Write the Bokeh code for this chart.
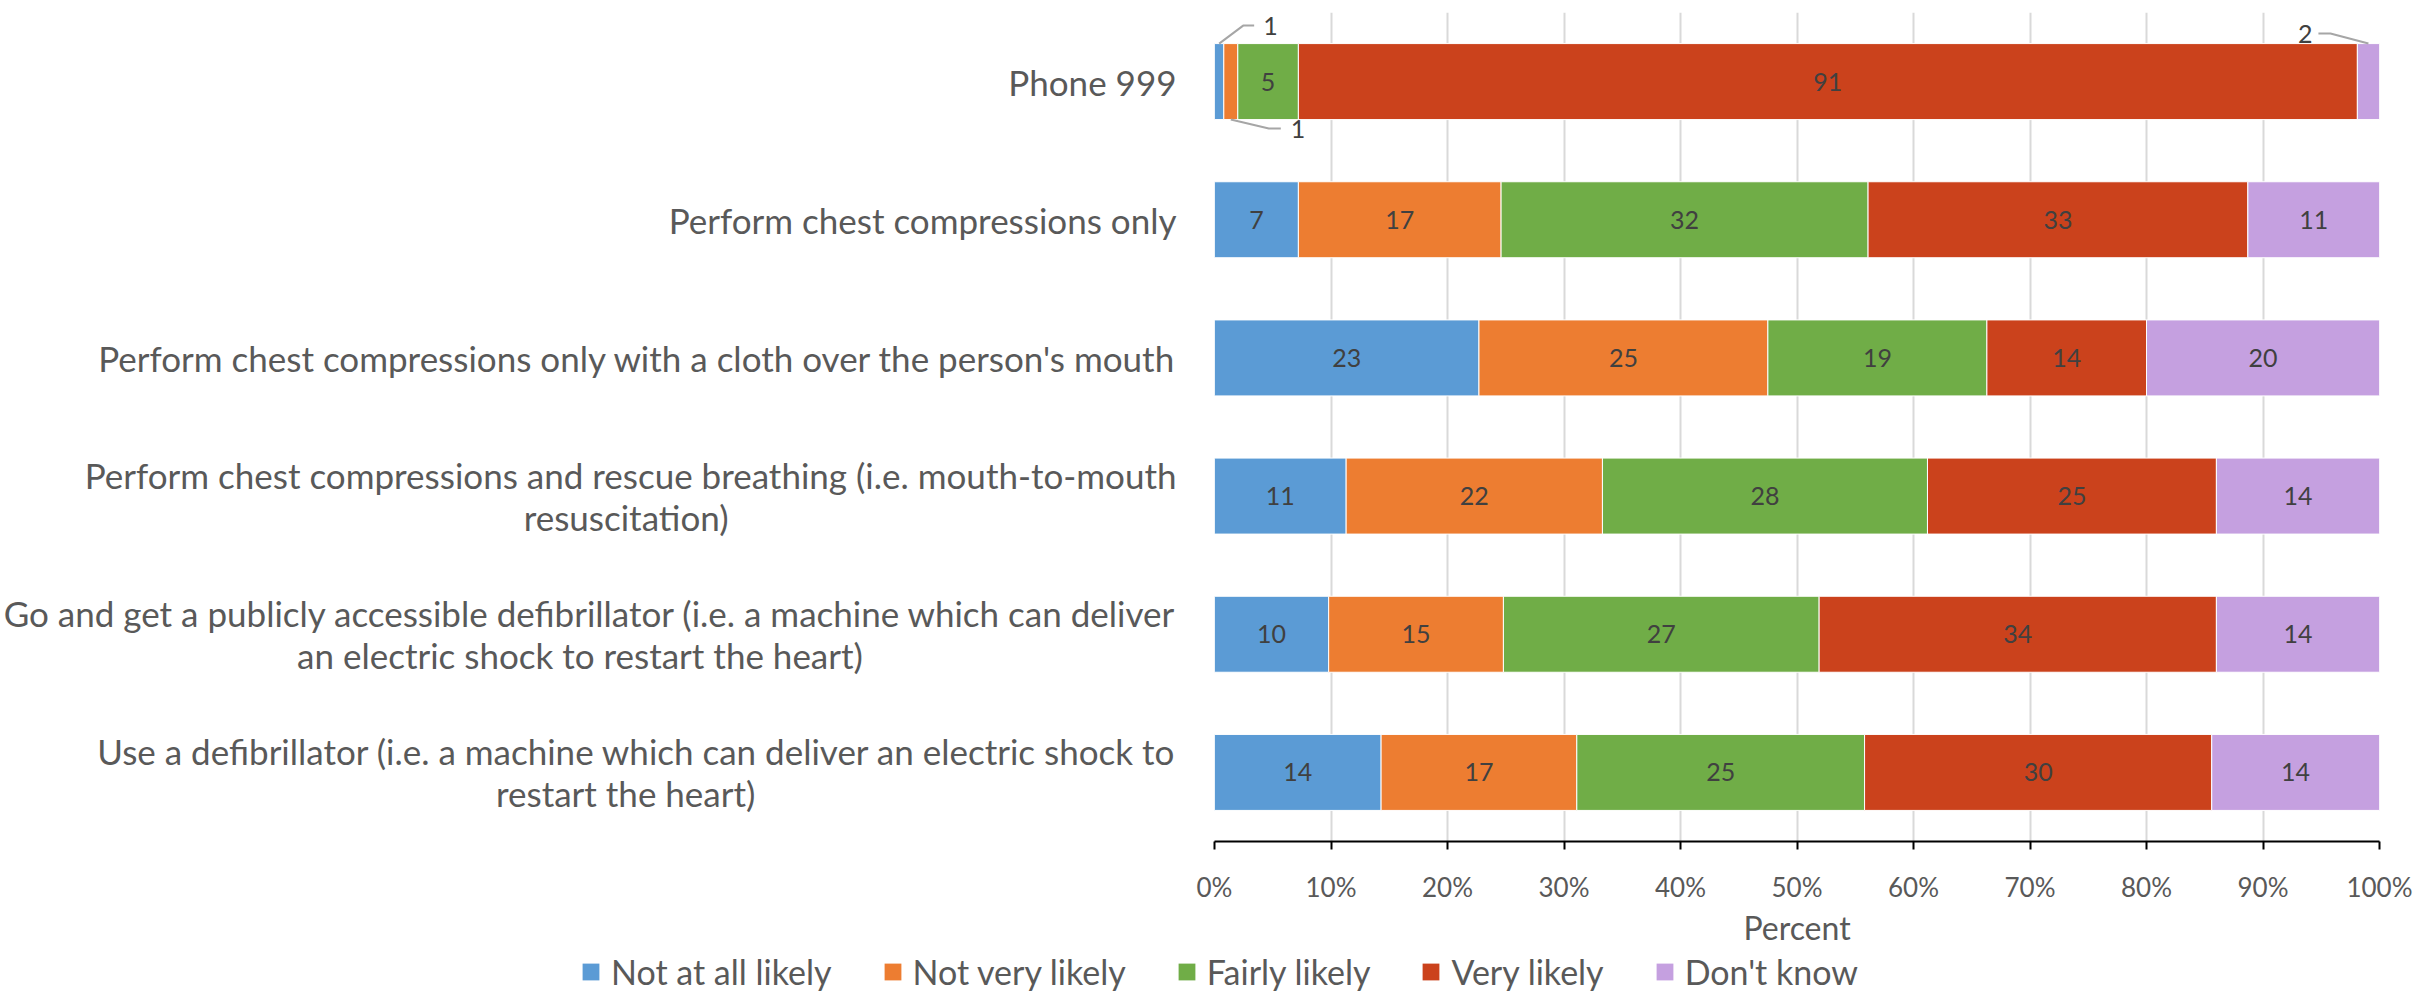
from bokeh.plotting import figure
from bokeh.layouts import column
from bokeh.models import Range1d, FixedTicker, Legend, LegendItem, ColumnDataSource
from bokeh.core.properties import value
from bokeh.embed import file_html
from bokeh.resources import INLINE

categories = [
    "Phone 999",
    "Perform chest compressions only",
    "Perform chest compressions only with a cloth over the person's mouth",
    "Perform chest compressions and rescue breathing (i.e. mouth-to-mouth\nresuscitation)",
    "Go and get a publicly accessible defibrillator (i.e. a machine which can deliver\nan electric shock to restart the heart)",
    "Use a defibrillator (i.e. a machine which can deliver an electric shock to\nrestart the heart)",
]
series = ["Not at all likely", "Not very likely", "Fairly likely", "Very likely", "Don't know"]
not_at_all_likely = [0.8, 7.2, 22.7, 11.3, 9.8, 14.3]
not_very_likely = [1.2, 17.4, 24.8, 22.0, 15.0, 16.8]
fairly_likely = [5.2, 31.5, 18.8, 27.9, 27.1, 24.7]
very_likely = [90.9, 32.6, 13.7, 24.8, 34.1, 29.8]
dont_know = [1.9, 11.3, 20.0, 14.0, 14.0, 14.4]
x_ticks = [0, 10, 20, 30, 40, 50, 60, 70, 80, 90, 100]
x_tick_labels = ["0%", "10%", "20%", "30%", "40%", "50%", "60%", "70%", "80%", "90%", "100%"]

colors = ["#5B9BD5", "#ED7D31", "#70AD47", "#CB421C", "#C5A0E0"]
FONT = "Lato"
TXT = "#595959"
LBL = "#404040"
NBSP = "\u00a0"
# non-breaking-space padding on the last line, so wrapped labels look centred
label_pad = [0, 0, 0, 50, 35, 47]

values = [not_at_all_likely, not_very_likely, fairly_likely, very_likely, dont_know]
n = len(categories)
totals = [sum(v[i] for v in values) for i in range(n)]
pct = [[v[i] / totals[i] * 100 for i in range(n)] for v in values]

W, HM, HL = 2423, 950, 42
FRAME_LEFT = 1214
p = figure(width=W, height=HM, output_backend="svg", toolbar_location=None,
           x_range=Range1d(0, 100), y_range=Range1d(n - 0.5, -0.5),
           min_border_left=FRAME_LEFT, min_border_right=44, min_border_top=12, min_border_bottom=109)
p.outline_line_color = None
p.background_fill_color = "white"

p.ygrid.grid_line_color = None
p.xgrid.ticker = FixedTicker(ticks=x_ticks)
p.xgrid.grid_line_color = "#D9D9D9"
p.xgrid.grid_line_width = 2

bar_h = 0.55
pxx = 100 / 1165.0  # % per pixel
pyy = 1 / 138.17    # category per pixel
renderers = []
left = [0.0] * n
for s, name in enumerate(series):
    right = [left[i] + pct[s][i] for i in range(n)]
    src = ColumnDataSource(dict(y=list(range(n)), left=left, right=right))
    r = p.hbar(y="y", left="left", right="right", height=bar_h, source=src,
               fill_color=colors[s], line_color="white", line_width=1)
    renderers.append(r)
    inside = dict(x=[], y=[], t=[])
    for i in range(n):
        c = (left[i] + right[i]) / 2
        lab = str(int(round(values[s][i])))
        if pct[s][i] >= 3:
            inside["x"].append(c); inside["y"].append(i); inside["t"].append(lab)
        else:
            if s == len(series) - 1:
                y0 = i - bar_h / 2
                xs = [c, c - 38 * pxx, c - 50 * pxx]
                ys = [y0, y0 - 10 * pyy, y0 - 10 * pyy]
                tx, ta = c - 56 * pxx, "right"
            elif s % 2 == 0:
                y0 = i - bar_h / 2
                xs = [c, c + 24 * pxx, c + 35 * pxx]
                ys = [y0, y0 - 18 * pyy, y0 - 18 * pyy]
                tx, ta = c + 44 * pxx, "left"
            else:
                y0 = i + bar_h / 2
                xs = [c, c + 38 * pxx, c + 50 * pxx]
                ys = [y0, y0 + 9 * pyy, y0 + 9 * pyy]
                tx, ta = c + 60 * pxx, "left"
            p.line(xs, ys, line_color="#A6A6A6", line_width=2)
            p.text(x=[tx], y=[ys[-1]], text=[lab], text_align=ta, text_baseline="middle",
                   text_font=value(FONT), text_font_size="25px", text_color=LBL)
    p.text(x="x", y="y", text="t", source=ColumnDataSource(inside), text_align="center",
           text_baseline="middle", text_font=value(FONT), text_font_size="25px", text_color=LBL)
    left = right

xa = p.xaxis[0]
xa.ticker = FixedTicker(ticks=x_ticks)
xa.major_label_overrides = {t: l for t, l in zip(x_ticks, x_tick_labels)}
xa.axis_line_color = "black"
xa.axis_line_width = 2
xa.major_tick_line_color = "black"
xa.major_tick_line_width = 2
xa.major_tick_out = 8
xa.major_tick_in = 0
xa.minor_tick_line_color = None
xa.major_label_text_font = FONT
xa.major_label_text_font_size = "26px"
xa.major_label_text_color = TXT
xa.major_label_standoff = 21
xa.axis_label = "Percent"
xa.axis_label_text_font = FONT
xa.axis_label_text_font_size = "32px"
xa.axis_label_text_font_style = "normal"
xa.axis_label_text_color = TXT
xa.axis_label_standoff = 2

ya = p.yaxis[0]
ya.ticker = FixedTicker(ticks=list(range(n)))
ya.major_label_overrides = {i: c + NBSP * label_pad[i] for i, c in enumerate(categories)}
ya.axis_line_color = None
ya.major_tick_line_color = None
ya.minor_tick_line_color = None
ya.major_label_text_font = FONT
ya.major_label_text_font_size = "35px"
ya.major_label_text_line_height = 1.0
ya.major_label_text_color = TXT
ya.major_label_standoff = 32

# legend strip below the chart
pl = figure(width=W, height=HL, output_backend="svg", toolbar_location=None,
            x_axis_type=None, y_axis_type=None, x_range=Range1d(0, 100), y_range=Range1d(10, 11),
            min_border_left=0, min_border_right=0, min_border_top=0, min_border_bottom=0)
pl.frame_align = False
pl.outline_line_color = None
pl.grid.grid_line_color = None
leg_r = []
for s, name in enumerate(series):
    # hidden copies of the series (first row), used only for the legend swatches
    leg_r.append(pl.hbar(y=[0], left=[0], right=[pct[s][0]], height=bar_h,
                         fill_color=colors[s], line_color=None, visible=False))
legend = Legend(items=[LegendItem(label=name, renderers=[r]) for name, r in zip(series, leg_r)],
                orientation="horizontal", location=(580, 0),
                glyph_width=21, glyph_height=21, label_standoff=10, spacing=50,
                padding=0, margin=0, border_line_color=None, background_fill_alpha=0,
                inactive_fill_alpha=0,
                label_text_font=FONT, label_text_font_size="34px", label_text_color=TXT)
pl.add_layout(legend, "center")

layout = column(p, pl, spacing=0)
open("out.html", "w").write(file_html(layout, INLINE))
